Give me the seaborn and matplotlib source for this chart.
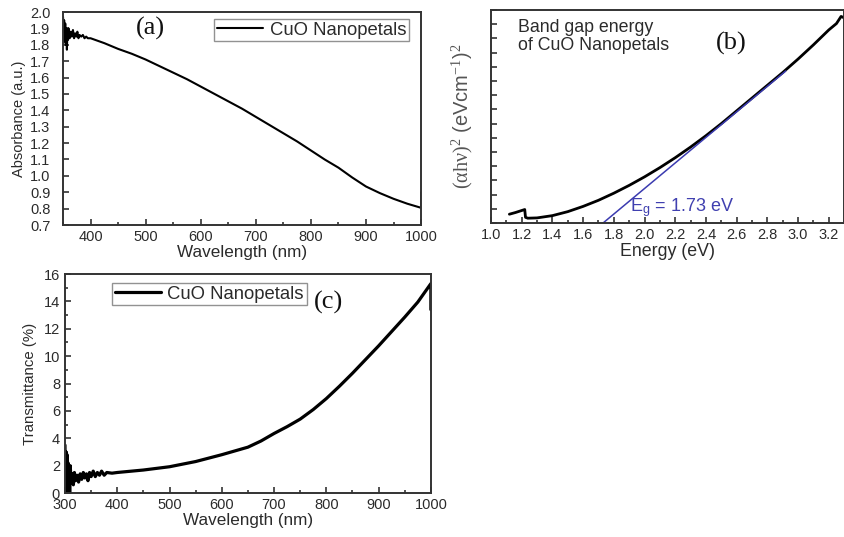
import numpy as np
import pandas as pd
import matplotlib
matplotlib.use("Agg")
import matplotlib.pyplot as plt
from matplotlib.ticker import MultipleLocator, NullFormatter
import seaborn as sns

# ---------------- data ----------------
# (a) UV-vis absorbance of CuO nanopetals
abs_wavelength = [350, 351, 352, 353, 354, 355, 356, 357, 358, 359, 360, 362, 364, 366,
                  368, 370, 372, 374, 376, 378, 380, 383, 386, 389, 392, 395, 398,
                  400, 425, 450, 475, 500, 525, 550, 575, 600, 625, 650, 675, 700,
                  725, 750, 775, 800, 825, 850, 875, 900, 925, 950, 975, 1000, 1000]
absorbance = [1.97, 1.88, 1.95, 1.82, 1.93, 1.80, 1.90, 1.77, 1.89, 1.83, 1.90, 1.84,
              1.88, 1.85, 1.89, 1.84, 1.87, 1.85, 1.88, 1.84, 1.86, 1.85, 1.86, 1.84,
              1.85, 1.84, 1.84,
              1.84, 1.81, 1.775, 1.745, 1.71, 1.67, 1.63, 1.59, 1.545, 1.50, 1.455,
              1.41, 1.36, 1.31, 1.26, 1.21, 1.155, 1.10, 1.05, 0.99, 0.935, 0.895,
              0.86, 0.83, 0.805, 0.90]

# (b) Tauc plot
energy = [1.12, 1.16, 1.20, 1.22, 1.225, 1.24, 1.30, 1.40, 1.50, 1.60, 1.70, 1.80,
          1.90, 2.00, 2.10, 2.20, 2.30, 2.40, 2.50, 2.60, 2.70, 2.80, 2.90, 3.00,
          3.10, 3.20, 3.25, 3.28, 3.30]
tauc = [0.62, 0.74, 0.88, 0.95, 0.40, 0.34, 0.36, 0.52, 0.80, 1.17, 1.60, 2.10,
        2.65, 3.25, 3.90, 4.60, 5.35, 6.15, 7.00, 7.90, 8.80, 9.70, 10.60, 11.55,
        12.55, 13.60, 14.05, 14.55, 14.45]
band_gap = 1.73
fit_slope = 9.0
fit_energy = np.array([band_gap, 2.92])
fit_tauc = fit_slope * (fit_energy - band_gap)

# (c) transmittance
trans_wavelength = [300, 301, 302, 303, 304, 305, 306, 307, 308, 309, 310, 312, 314,
                    316, 318, 320, 323, 326, 329, 332, 335, 338, 341, 344, 347, 350,
                    354, 358, 362, 366, 370, 375, 380, 390,
                    400, 450, 500, 550, 600, 650, 675, 700, 725, 750, 775, 800, 825,
                    850, 875, 900, 925, 950, 975, 1000, 1000]
transmittance = [3.5, 0.2, 3.0, 0.3, 2.8, 0.1, 2.2, 0.5, 1.8, 0.0, 2.0, 0.7, 1.4,
                 0.6, 1.5, 0.9, 1.3, 0.8, 1.4, 1.0, 1.5, 1.1, 1.4, 0.9, 1.5, 1.2,
                 1.6, 1.2, 1.5, 1.3, 1.6, 1.3, 1.5, 1.45,
                 1.50, 1.68, 1.92, 2.30, 2.80, 3.35, 3.80, 4.35, 4.85, 5.40, 6.10,
                 6.90, 7.80, 8.75, 9.75, 10.75, 11.80, 12.85, 13.95, 15.30, 13.40]

series_label = "CuO Nanopetals"

# ---------------- style ----------------
sns.set_theme(style="ticks")
plt.rcParams["font.family"] = ["Liberation Sans", "DejaVu Sans"]
plt.rcParams["mathtext.fontset"] = "custom"
plt.rcParams["mathtext.rm"] = "Liberation Serif"
plt.rcParams["mathtext.it"] = "Liberation Serif"
TXT = "#2b2b2b"
SPINE = "#333333"
LABEL_FS = 12.3
PANEL_FS = 19

fig = plt.figure(figsize=(8.45, 5.37), dpi=100)
ax_a = fig.add_axes([0.0746, 0.581, 0.4237, 0.3966])
ax_b = fig.add_axes([0.581, 0.5847, 0.418, 0.3966])
ax_c = fig.add_axes([0.0769, 0.0819, 0.433, 0.4078])


def style_axes(ax, ypad=3.5):
    for s in ax.spines.values():
        s.set_visible(True)
        s.set_linewidth(1.4)
        s.set_color(SPINE)
    ax.tick_params(which="both", direction="in", top=False, right=False,
                   colors=SPINE, labelcolor=TXT, labelsize=10.5, width=1.2)
    ax.tick_params(which="major", length=4.5)
    ax.tick_params(which="minor", length=2.5)
    ax.tick_params(axis="y", pad=ypad)
    ax.set_facecolor("white")


def boxed_legend(ax, **kw):
    leg = ax.legend(fontsize=13.3, handlelength=2.5, frameon=True, fancybox=False,
                    borderpad=0.15, handletextpad=0.35, borderaxespad=0, **kw)
    leg.get_frame().set_edgecolor("#777")
    leg.get_frame().set_linewidth(1.0)
    for t in leg.get_texts():
        t.set_color(TXT)
    return leg


# ---------------- (a) ----------------
df_a = pd.DataFrame({"wl": abs_wavelength, "A": absorbance})
sns.lineplot(data=df_a, x="wl", y="A", ax=ax_a, sort=False, estimator=None,
             color="black", lw=1.5, label=series_label)
ax_a.set_xlim(350, 1000)
ax_a.set_ylim(0.7, 2.0)
ax_a.xaxis.set_major_locator(MultipleLocator(100))
ax_a.xaxis.set_minor_locator(MultipleLocator(50))
ax_a.yaxis.set_major_locator(MultipleLocator(0.1))
ax_a.yaxis.set_major_formatter(plt.FuncFormatter(lambda v, p: f"{v:.1f}"))
ax_a.set_xlabel("Wavelength (nm)", fontsize=LABEL_FS, color=TXT, labelpad=1)
ax_a.set_ylabel("Absorbance (a.u.)", fontsize=10.5, color=TXT, labelpad=3)
style_axes(ax_a, ypad=9)
ax_a.text(0.243, 0.925, "(a)", transform=ax_a.transAxes, ha="center", va="center",
          fontsize=PANEL_FS, family="Liberation Serif", color="#111")
boxed_legend(ax_a, loc="upper right", bbox_to_anchor=(0.966, 0.968))

# ---------------- (b) ----------------
df_b = pd.DataFrame({"E": energy, "T": tauc})
sns.lineplot(data=df_b, x="E", y="T", ax=ax_b, sort=False, estimator=None,
             color="black", lw=2.0)
sns.lineplot(x=fit_energy, y=fit_tauc, ax=ax_b, sort=False, estimator=None,
             color="#3b3bb0", lw=1.1)
ax_b.set_xlim(1.0, 3.3)
ax_b.set_ylim(0, 15)
ax_b.xaxis.set_major_locator(MultipleLocator(0.2))
ax_b.xaxis.set_minor_locator(MultipleLocator(0.1))
ax_b.xaxis.set_major_formatter(plt.FuncFormatter(lambda v, p: f"{v:.1f}"))
ax_b.yaxis.set_major_locator(MultipleLocator(1))
ax_b.yaxis.set_major_formatter(NullFormatter())
ax_b.set_xlabel("Energy (eV)", fontsize=12.8, color=TXT, labelpad=1)
ax_b.set_ylabel(r"$(\alpha h\nu)^2$ (eVcm$^{-1}$)$^2$", fontsize=14.5,
                color="#555", labelpad=8)
style_axes(ax_b)
ax_b.text(0.076, 0.958, "Band gap energy\nof CuO Nanopetals", transform=ax_b.transAxes,
          ha="left", va="top", fontsize=12.8, color=TXT, linespacing=1.05)
ax_b.text(0.68, 0.845, "(b)", transform=ax_b.transAxes, ha="center", va="center",
          fontsize=PANEL_FS, family="Liberation Serif", color="#111")
ax_b.text(1.905, 1.1, r"E$_\mathregular{g}$ = " + f"{band_gap:.2f} eV",
          ha="left", va="center", fontsize=13, color="#4040b0")

# ---------------- (c) ----------------
df_c = pd.DataFrame({"wl": trans_wavelength, "T": transmittance})
sns.lineplot(data=df_c, x="wl", y="T", ax=ax_c, sort=False, estimator=None,
             color="black", lw=2.3, label=series_label)
ax_c.set_xlim(300, 1000)
ax_c.set_ylim(0, 16)
ax_c.xaxis.set_major_locator(MultipleLocator(100))
ax_c.xaxis.set_minor_locator(MultipleLocator(50))
ax_c.yaxis.set_major_locator(MultipleLocator(2))
ax_c.yaxis.set_minor_locator(MultipleLocator(1))
ax_c.set_xlabel("Wavelength (nm)", fontsize=LABEL_FS, color=TXT, labelpad=1)
ax_c.set_ylabel("Transmittance (%)", fontsize=10.8, color=TXT, labelpad=5)
style_axes(ax_c)
ax_c.text(0.719, 0.868, "(c)", transform=ax_c.transAxes, ha="center", va="center",
          fontsize=PANEL_FS, family="Liberation Serif", color="#111")
boxed_legend(ax_c, loc="upper left", bbox_to_anchor=(0.128, 0.96))

fig.savefig("out.png", dpi=100, facecolor="white")
